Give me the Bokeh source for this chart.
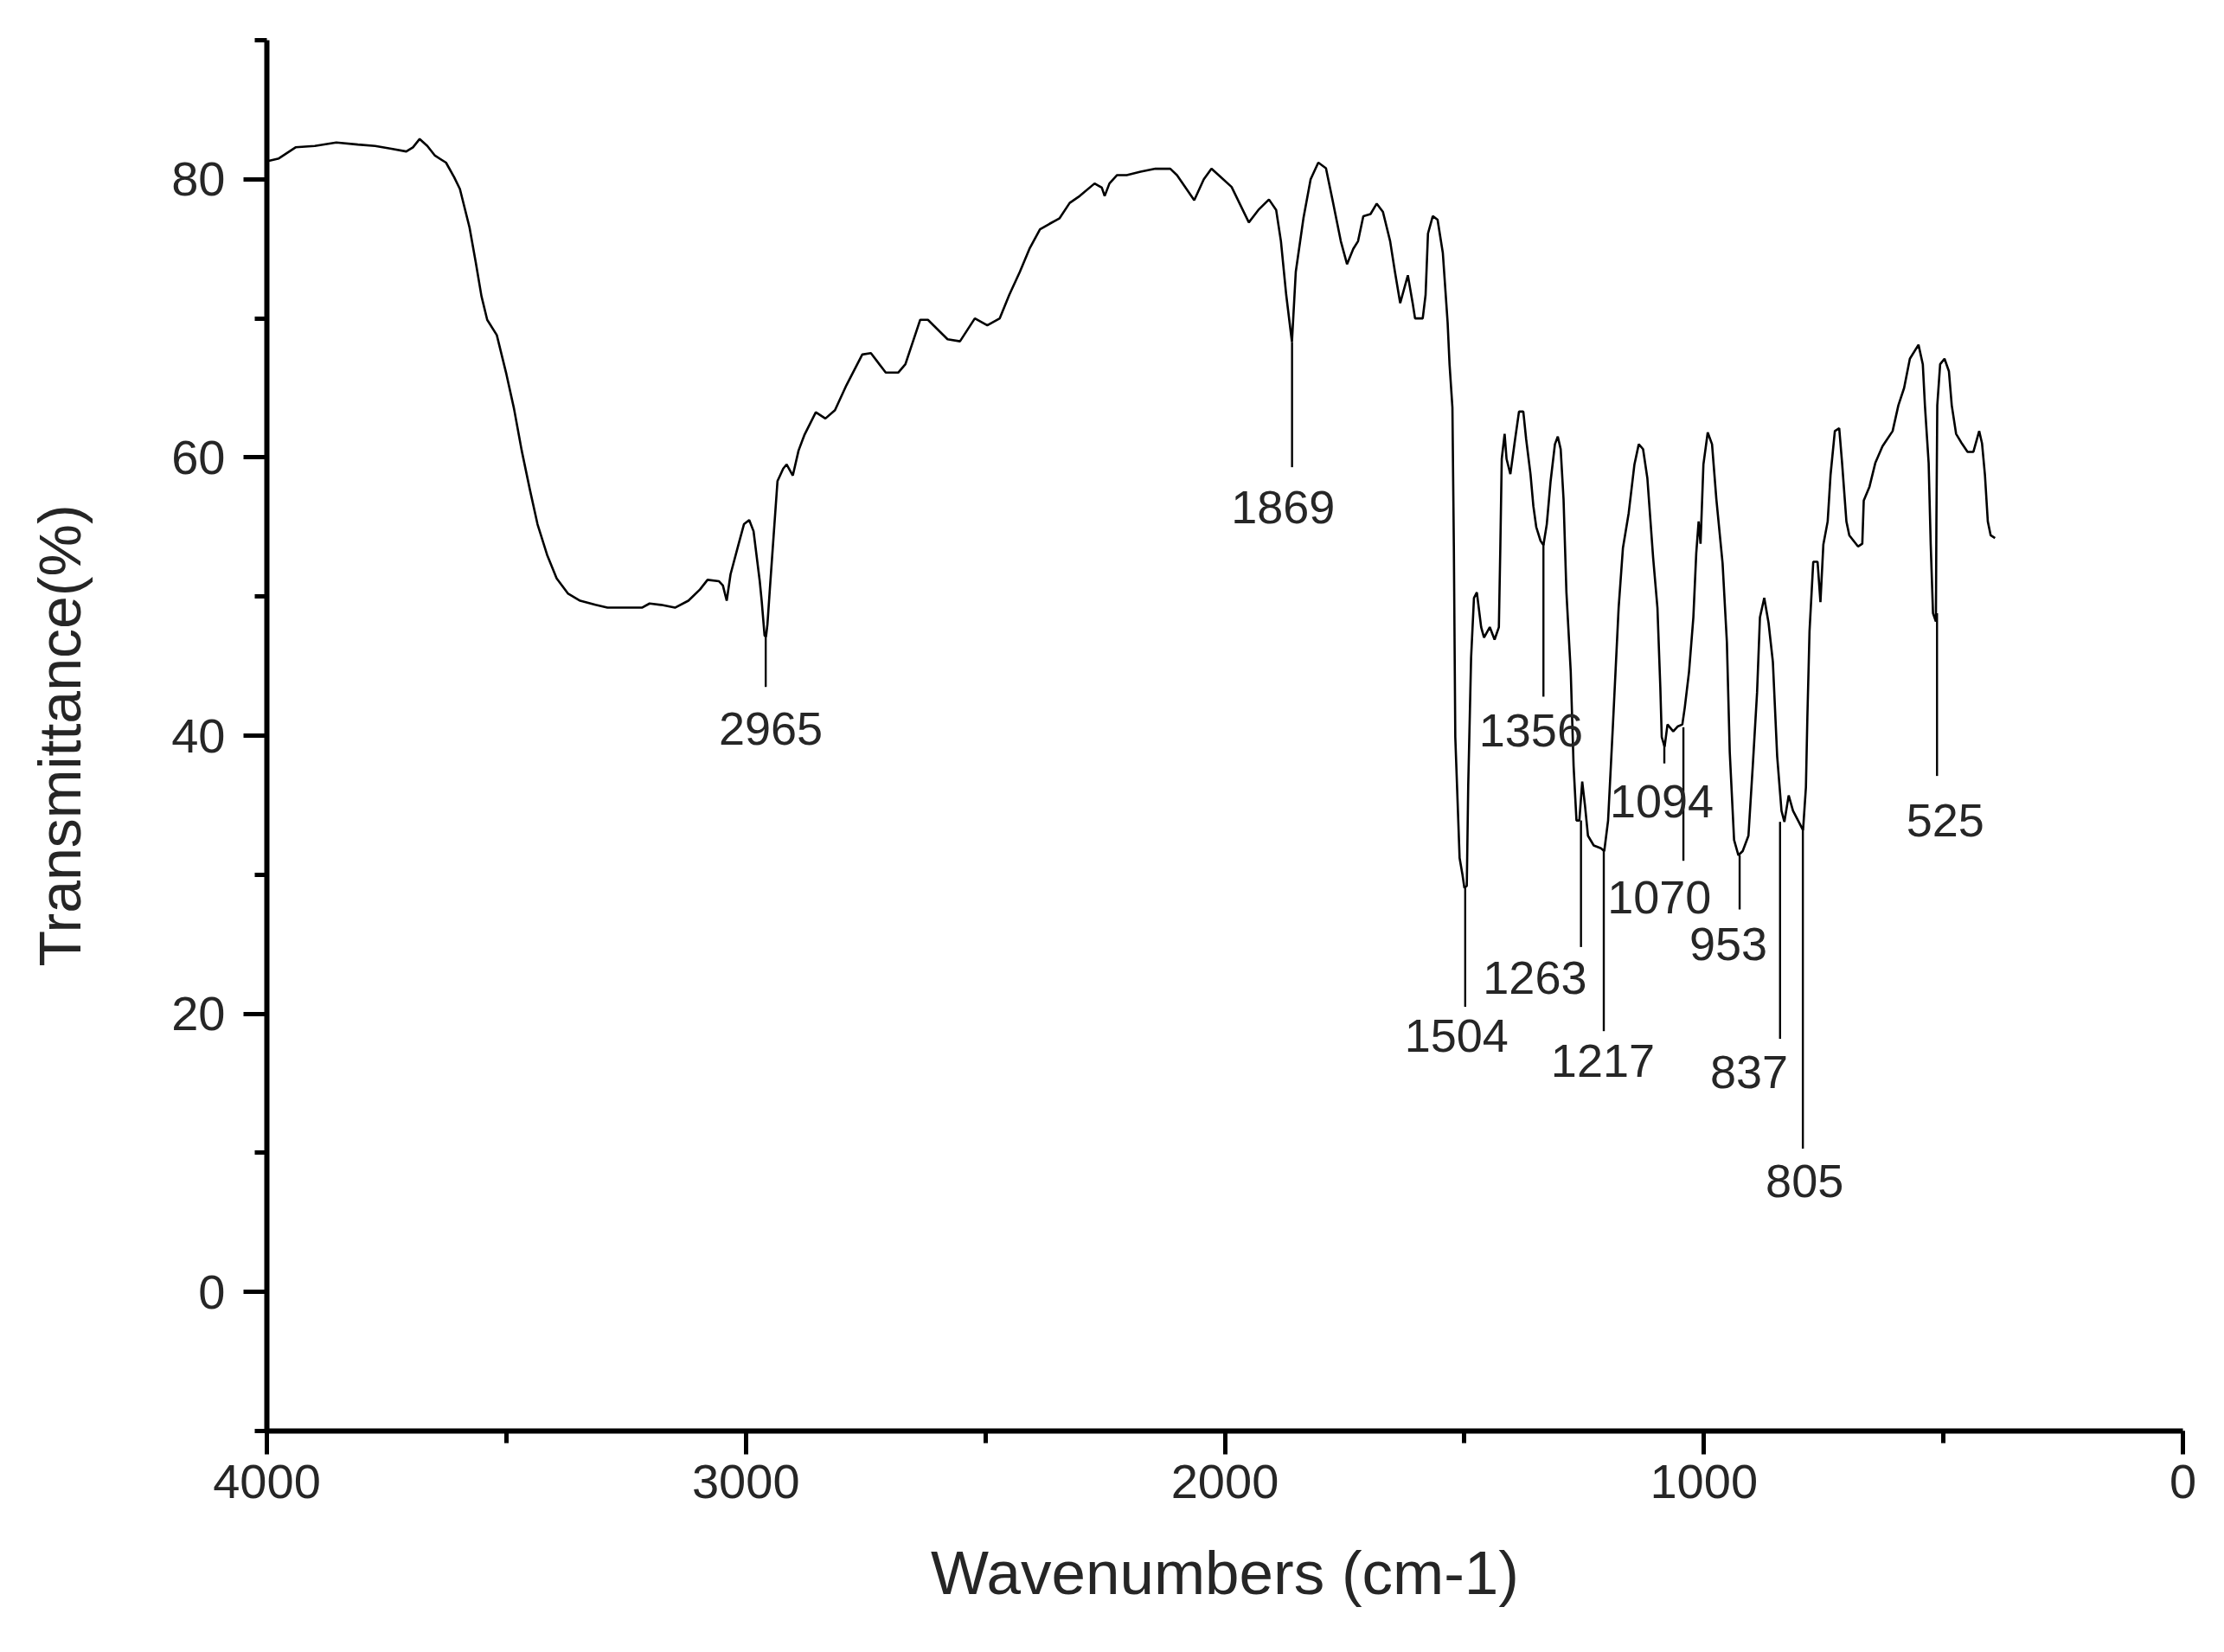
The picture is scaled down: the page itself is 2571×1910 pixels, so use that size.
from bokeh.plotting import figure
from bokeh.models import Range1d, FixedTicker, ColumnDataSource
from bokeh.core.properties import value
from bokeh.embed import file_html
from bokeh.resources import INLINE

# ---- spectrum ----
wavenumber = [
    4000, 3975, 3940, 3900, 3855, 3810, 3774, 3740, 3709, 3695, 3681, 3665, 3649, 3626,
    3609, 3597, 3577, 3564, 3552, 3540, 3520, 3500, 3484, 3468, 3451, 3435, 3415, 3395,
    3371, 3346, 3314, 3289, 3217, 3201, 3177, 3148, 3120, 3096, 3080, 3056, 3048, 3040,
    3032, 3015, 3004, 2993, 2984, 2971, 2967, 2961, 2958, 2955, 2950, 2942, 2934, 2922,
    2915, 2902, 2890, 2878, 2854, 2834, 2814, 2790, 2757, 2739, 2708, 2682, 2667, 2636,
    2620, 2579, 2553, 2522, 2496, 2470, 2450, 2428, 2408, 2386, 2366, 2345, 2324, 2303,
    2272, 2257, 2251, 2241, 2225, 2205, 2176, 2145, 2114, 2100, 2064, 2044, 2028, 2013,
    1986, 1950, 1930, 1908, 1893, 1883, 1872, 1860, 1852, 1836, 1821, 1805, 1789, 1774,
    1758, 1745, 1732, 1722, 1711, 1696, 1683, 1670, 1655, 1645, 1634, 1618, 1608, 1603,
    1587, 1581, 1576, 1566, 1556, 1545, 1535, 1531, 1525, 1522, 1519, 1510, 1504, 1500,
    1495, 1492, 1486, 1480, 1474, 1465, 1459, 1447, 1437, 1428, 1425, 1422, 1416, 1412,
    1404, 1395, 1386, 1377, 1371, 1362, 1356, 1350, 1341, 1335, 1328, 1320, 1311, 1305,
    1299, 1293, 1287, 1278, 1272, 1266, 1260, 1254, 1248, 1242, 1230, 1215, 1208, 1200,
    1190, 1178, 1169, 1157, 1145, 1136, 1127, 1118, 1106, 1097, 1091, 1088, 1082, 1076,
    1064, 1055, 1045, 1040, 1031, 1022, 1016, 1011, 1007, 1001, 992, 983, 974, 961,
    952, 946, 937, 928, 919, 907, 898, 889, 883, 874, 865, 856, 847, 838,
    832, 823, 814, 802, 793, 787, 784, 779.5, 771.7, 762.7, 756.7, 750.6, 741.6, 735.6,
    726.6, 717.5, 711.5, 702.5, 696.4, 678.3, 669.3, 666.3, 654.3, 642.2, 627.2, 606, 594, 582,
    570, 552, 543, 538.6, 530.8, 526.5, 521.7, 515.7, 514.6, 512.8, 506.8, 497.7, 488.5, 482.6,
    473.5, 461.4, 449.5, 437.4, 425.3, 419.3, 413.3, 407.3, 401.3, 392.2,
]
transmittance = [
    81.3, 81.5, 82.3, 82.4, 82.65, 82.5, 82.4, 82.2, 82.0, 82.3, 82.9, 82.4, 81.7, 81.2,
    80.15, 79.3, 76.55, 74.05, 71.6, 69.9, 68.8, 66.0, 63.5, 60.5, 57.7, 55.2, 53.0, 51.3,
    50.2, 49.7, 49.4, 49.2, 49.2, 49.5, 49.4, 49.2, 49.7, 50.5, 51.2, 51.1, 50.8, 49.7,
    51.6, 53.8, 55.2, 55.5, 54.7, 51.1, 49.7, 47.2, 47.1, 48.0, 50.5, 54.4, 58.3, 59.2,
    59.5, 58.7, 60.5, 61.6, 63.25, 62.8, 63.4, 65.2, 67.4, 67.5, 66.1, 66.1, 66.7, 69.9,
    69.9, 68.5, 68.35, 70.0, 69.5, 70.0, 71.7, 73.35, 75.0, 76.4, 76.8, 77.2, 78.3, 78.8,
    79.7, 79.4, 78.8, 79.7, 80.3, 80.3, 80.55, 80.76, 80.76, 80.3, 78.5, 80.0, 80.76, 80.3,
    79.45, 76.9, 77.8, 78.55, 77.8, 75.55, 71.7, 68.3, 73.35, 77.2, 80.0, 81.2, 80.8, 78.3,
    75.55, 73.9, 75.0, 75.55, 77.35, 77.5, 78.25, 77.65, 75.55, 73.35, 71.1, 73.1, 71.1, 70.0,
    70.0, 71.7, 76.1, 77.35, 77.1, 74.7, 69.7, 66.7, 63.6, 53.65, 39.9, 31.2, 30.0, 29.05,
    29.2, 36.4, 45.6, 49.9, 50.3, 47.8, 47.05, 47.8, 46.9, 47.8, 53.5, 59.9, 61.7, 59.9,
    58.8, 61.1, 63.3, 63.3, 61.3, 58.8, 56.5, 55.0, 54.0, 53.7, 55.2, 58.3, 60.95, 61.5,
    60.6, 57.0, 50.3, 44.6, 37.8, 33.9, 33.9, 36.7, 34.9, 32.8, 32.1, 31.9, 31.7, 33.9,
    40.7, 49.2, 53.5, 56.0, 59.5, 60.95, 60.6, 58.5, 52.8, 49.2, 43.5, 39.9, 39.2, 40.8,
    40.3, 40.65, 40.8, 42.0, 44.6, 48.5, 53.1, 55.4, 53.8, 59.5, 61.8, 60.95, 57.0, 52.4,
    46.7, 38.8, 32.5, 31.4, 31.7, 32.8, 37.8, 43.1, 48.5, 49.9, 48.1, 45.3, 38.5, 34.6,
    33.8, 35.7, 34.6, 33.8, 33.2, 36.3, 41.3, 47.5, 52.5, 52.5, 49.6, 53.75, 55.4, 58.75,
    61.9, 62.1, 59.6, 55.4, 54.4, 53.6, 53.8, 56.9, 57.9, 59.6, 60.8, 61.9, 63.75, 65.0,
    67.1, 68.1, 66.7, 63.75, 59.6, 53.75, 48.8, 48.2, 55.4, 63.75, 66.7, 67.1, 66.2, 63.75,
    61.7, 61.0, 60.4, 60.4, 61.9, 61.0, 58.75, 55.4, 54.4, 54.2,
]

# ---- peak annotations ----
peak_labels = ["2965", "1869", "1504", "1356", "1263", "1217",
               "1094", "1070", "953", "837", "805", "525"]
leader_x = [2958.6, 1859.8, 1498.3, 1335.0, 1256.6, 1209.0,
            1082.6, 1042.8, 925.4, 841.0, 793.4, 513.3]
leader_top = [47.1, 68.3, 29.05, 53.8, 33.9, 31.7,
              39.6, 40.6, 31.4, 33.8, 33.2, 48.8]
leader_bottom = [43.5, 59.3, 20.5, 42.8, 24.8, 18.75,
                 38.0, 31.0, 27.5, 18.2, 10.3, 37.1]
label_x = [2948.0, 1878.5, 1516.4, 1361.0, 1352.8, 1211.0,
           1088.0, 1093.0, 948.8, 905.5, 789.8, 496.0]
label_y = [40.5, 56.4, 18.4, 40.4, 22.6, 16.6,
           35.3, 28.4, 25.0, 15.8, 7.95, 33.9]

x_major = [0, 1000, 2000, 3000, 4000]
x_minor = [0, 500, 1000, 1500, 2000, 2500, 3000, 3500, 4000]
y_major = [0, 20, 40, 60, 80]
y_minor = [-10, 0, 10, 20, 30, 40, 50, 60, 70, 80, 90]

FONT = "Liberation Sans"
TXT = "#262626"

p = figure(
    width=2555, height=1894,
    x_range=Range1d(4000, 0), y_range=Range1d(-10, 90),
    output_backend="svg", toolbar_location=None,
    min_border_left=308, min_border_right=32,
    min_border_top=46, min_border_bottom=240,
)
p.outline_line_color = None
p.xgrid.visible = False
p.ygrid.visible = False
p.background_fill_color = "white"
p.border_fill_color = "white"

spec = ColumnDataSource(dict(x=wavenumber, y=transmittance))
p.line("x", "y", source=spec, line_color="black", line_width=2.6)

lead = ColumnDataSource(dict(x=leader_x, y0=leader_top, y1=leader_bottom))
p.segment(x0="x", y0="y0", x1="x", y1="y1", source=lead,
          line_color="black", line_width=2.4)

labs = ColumnDataSource(dict(x=label_x, y=label_y, t=peak_labels))
p.text(x="x", y="y", text="t", source=labs,
       text_font=value(FONT), text_font_size="54px", text_color=TXT,
       text_align="center", text_baseline="middle")

p.xaxis.ticker = FixedTicker(ticks=x_major, minor_ticks=x_minor)
p.yaxis.ticker = FixedTicker(ticks=y_major, minor_ticks=y_minor)

for ax in (p.xaxis[0], p.yaxis[0]):
    ax.axis_line_width = 6
    ax.axis_line_color = "black"
    ax.major_tick_line_width = 5
    ax.minor_tick_line_width = 5
    ax.major_tick_line_color = "black"
    ax.minor_tick_line_color = "black"
    ax.major_tick_in = 0
    ax.major_tick_out = 27
    ax.minor_tick_in = 0
    ax.minor_tick_out = 14
    ax.major_label_text_font = FONT
    ax.major_label_text_font_size = "56px"
    ax.major_label_text_color = TXT
    ax.axis_label_text_font = FONT
    ax.axis_label_text_font_style = "normal"
    ax.axis_label_text_color = TXT

p.xaxis.axis_label = "Wavenumbers (cm-1)"
p.yaxis.axis_label = "Transmittance(%)"
p.xaxis.axis_label_text_font_size = "71px"
p.yaxis.axis_label_text_font_size = "68px"
p.xaxis.major_label_standoff = 12
p.yaxis.major_label_standoff = 21
p.xaxis.axis_label_standoff = 44
p.yaxis.axis_label_standoff = 88

open("out.html", "w").write(file_html(p, INLINE))
